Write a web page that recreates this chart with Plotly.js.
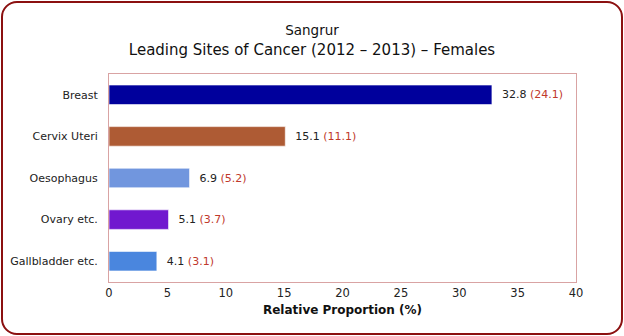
<!DOCTYPE html>
<html>
<head>
<meta charset="utf-8">
<script src="https://cdn.plot.ly/plotly-3.0.1.min.js"></script>
<style>
  html, body { margin: 0; padding: 0; background: #fff; }
  #wrap { position: relative; width: 624px; height: 336px; }
  #frame { position: absolute; left: 1px; top: 1px; width: 618px; height: 330px;
           border: 2px solid #8B1010; border-radius: 16px; pointer-events: none; }
  #chart { position: absolute; left: 0; top: 0; width: 624px; height: 336px; }
</style>
</head>
<body>
<div id="wrap">
  <div id="chart"></div>
  <div id="frame"></div>
</div>
<script>
const sites = ["Breast", "Cervix Uteri", "Oesophagus", "Ovary etc.", "Gallbladder etc."];
const relativeProportion = [32.8, 15.1, 6.9, 5.1, 4.1];
const aar = [24.1, 11.1, 5.2, 3.7, 3.1];
const barColors = ["#00009C", "#AE5B34", "#7196DE", "#7118CF", "#4A86DE"];
const xTicks = [0, 5, 10, 15, 20, 25, 30, 35, 40];

const labels = relativeProportion.map((v, i) =>
  "\u00A0\u00A0" + v.toFixed(1) + " <span style='color:#C0392B'>(" + aar[i].toFixed(1) + ")</span>");

const trace = {
  type: "bar",
  orientation: "h",
  y: sites,
  x: relativeProportion,
  marker: { color: barColors, line: { color: "rgba(255,255,255,0.6)", width: 1 } },
  width: 0.47,
  text: labels,
  textposition: "outside",
  textfont: { family: "DejaVu Sans", size: 11, color: "#222" },
  cliponaxis: false,
  hoverinfo: "skip"
};

const layout = {
  width: 624, height: 336,
  margin: { l: 109, r: 48, t: 74, b: 54 },
  paper_bgcolor: "rgba(0,0,0,0)",
  plot_bgcolor: "#fff",
  showlegend: false,
  font: { family: "DejaVu Sans", color: "#222" },
  title: {
    text: "<span style='font-size:13.5px'>Sangrur</span><br>Leading Sites of Cancer (2012 – 2013) – Females",
    font: { family: "DejaVu Sans", size: 15, color: "#111" },
    x: 0.5, xanchor: "center", yref: "container", y: 0.895, yanchor: "bottom"
  },
  xaxis: {
    range: [0, 40],
    tickvals: xTicks,
    ticktext: xTicks.map(String),
    showgrid: false, zeroline: false,
    showline: true, linecolor: "#D9A3A3", linewidth: 1, mirror: true,
    ticks: "", tickfont: { size: 11.5, color: "#222" },
    title: { text: "<b>Relative Proportion (%)</b>", font: { size: 12, color: "#111" }, standoff: 6 }
  },
  yaxis: {
    autorange: "reversed",
    showgrid: false, zeroline: false,
    showline: true, linecolor: "#D9A3A3", linewidth: 1, mirror: true,
    ticks: "", ticklabelstandoff: 8, tickfont: { size: 11, color: "#222" }
  }
};

Plotly.newPlot("chart", [trace], layout, { displayModeBar: false, staticPlot: true });
</script>
</body>
</html>
